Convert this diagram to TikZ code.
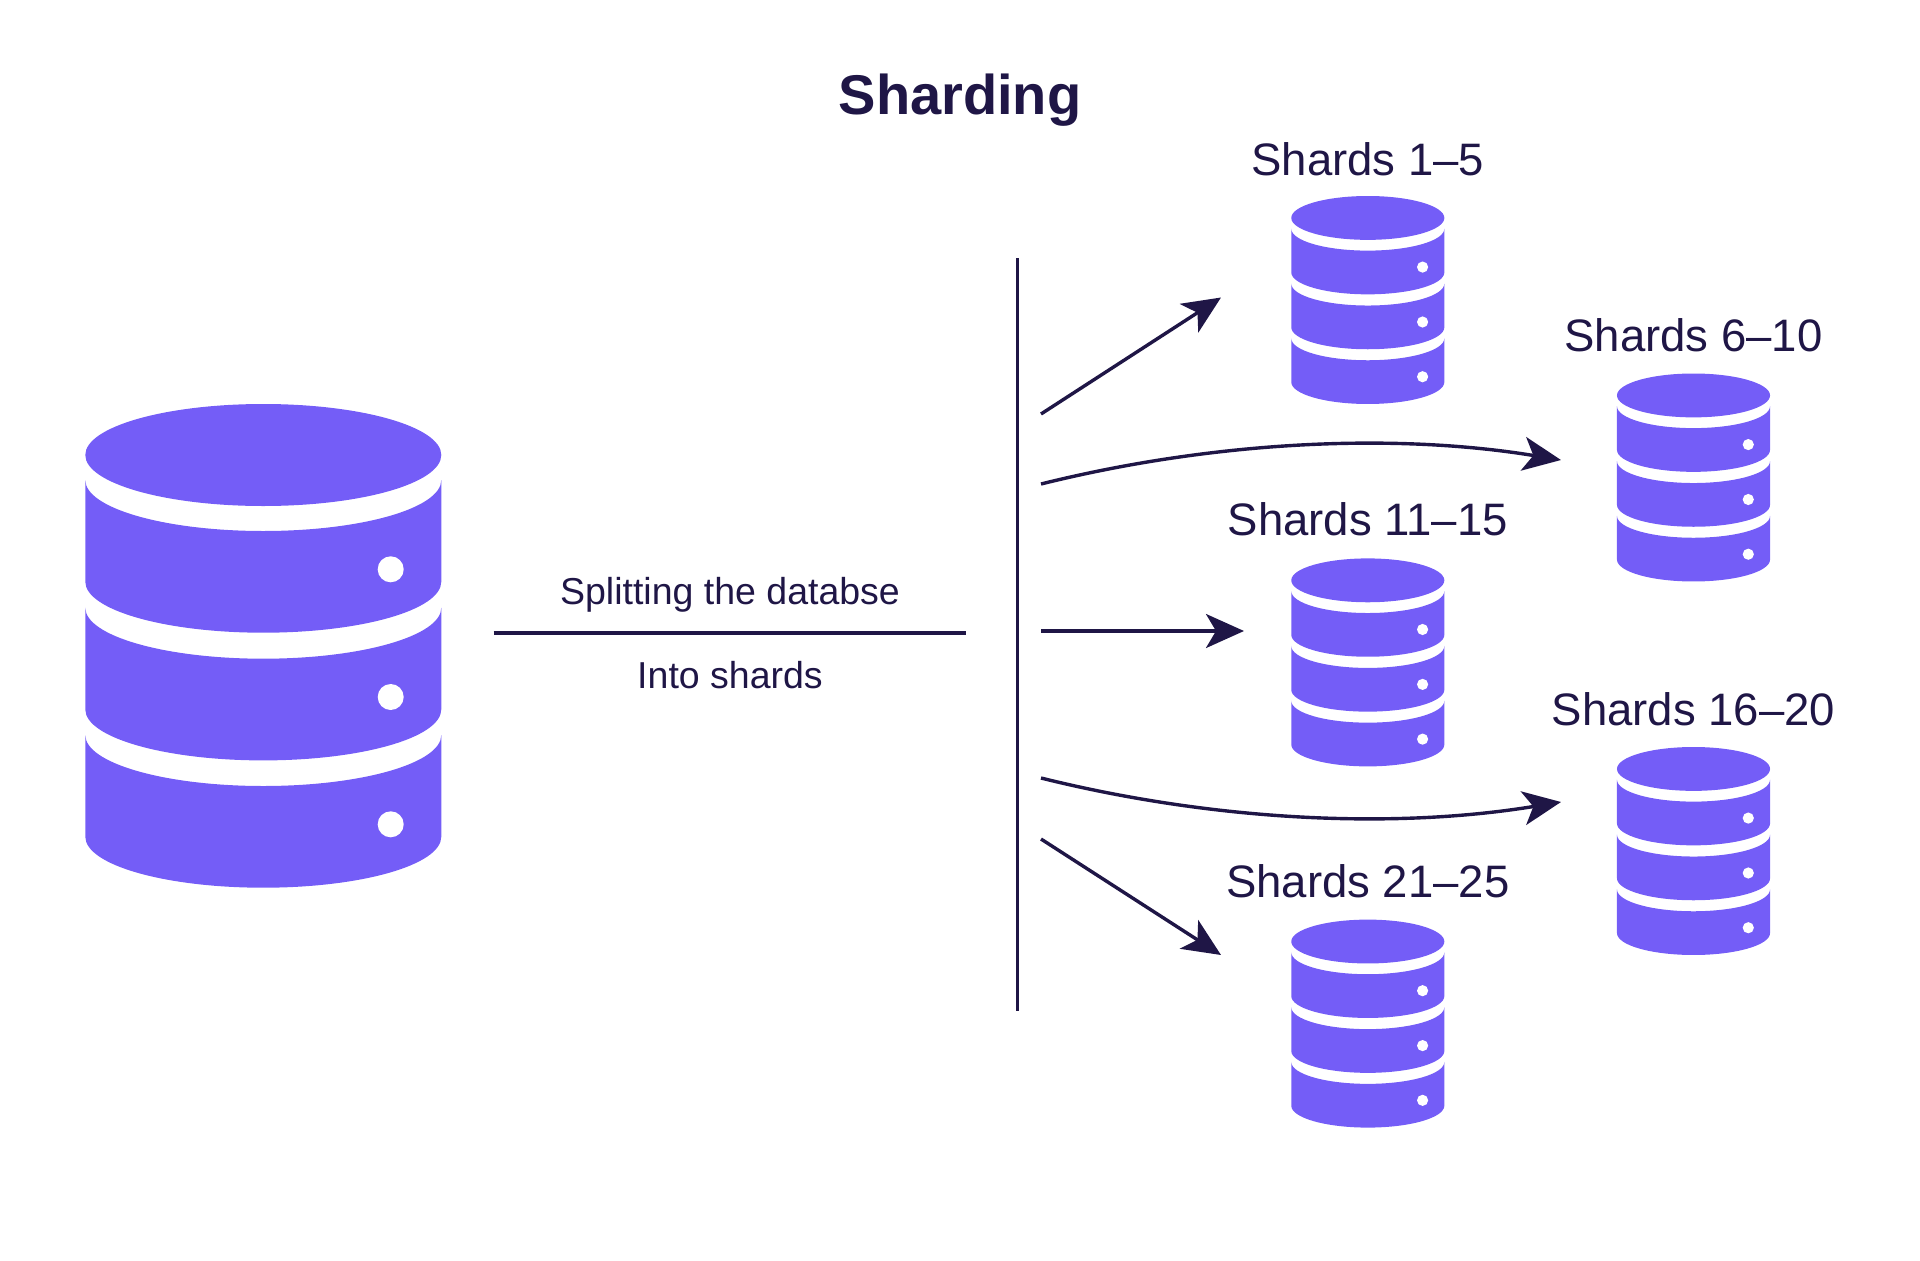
\documentclass[tikz,border=0pt]{standalone}
\usepackage{fontspec}
\setmainfont{Liberation Sans}
\usetikzlibrary{arrows.meta}
\definecolor{dbviolet}{HTML}{745DF7}
\definecolor{inknavy}{HTML}{1F1646}
\tikzset{
  dbfill/.style={fill=dbviolet,draw=none},
  holefill/.style={fill=white,draw=none},
  plainline/.style={draw=inknavy,line width=3.4pt},
  flowarrow/.style={draw=inknavy,line width=3.4pt,-{Stealth[length=38pt,width=34pt,inset=10pt]}},
  titletext/.style={text=inknavy,anchor=base,inner sep=0pt,font=\bfseries\fontsize{56}{60}\selectfont},
  shardtext/.style={text=inknavy,anchor=base,inner sep=0pt,font=\fontsize{45.5}{50}\selectfont},
  notetext/.style={text=inknavy,anchor=base,inner sep=0pt,font=\fontsize{37.5}{42}\selectfont},
}
% one disk of the stack: its side walls start at local height #1
\newcommand{\dbdisk}[1]{%
  \path[dbfill] (-178,#1) -- (-178,#1+101.7)
    .. controls (-178,#1+129.9) and (-98.3,#1+152.7) .. (0,#1+152.7)
    .. controls (98.3,#1+152.7) and (178,#1+129.9) .. (178,#1+101.7)
    -- (178,#1)
    .. controls (178,#1+28.2) and (98.3,#1+51) .. (0,#1+51)
    .. controls (-98.3,#1+51) and (-178,#1+28.2) .. (-178,#1) -- cycle;
  \path[holefill] (127.4,#1+89.3) circle[radius=13pt];
}
% database icon: #1 centre x, #2 top y, #3 scale
\newcommand{\dbicon}[3]{%
  \begin{scope}[shift={(#1,#2)},scale=#3]
    \path[dbfill] (0,51) ellipse[x radius=178pt,y radius=51pt];
    \dbdisk{76}
    \dbdisk{203.7}
    \dbdisk{331}
  \end{scope}
}
\begin{document}
\begin{tikzpicture}[x=1pt,y=-1pt]
  \useasboundingbox (0,0) rectangle (1920,1261);
  \dbicon{263.3}{404}{1}
  \dbicon{1367.8}{196}{0.43}
  \dbicon{1693.5}{373.5}{0.43}
  \dbicon{1367.8}{558.4}{0.43}
  \dbicon{1693.5}{747}{0.43}
  \dbicon{1367.8}{919.6}{0.43}

  \node[titletext] (title) at (960,114) {Sharding};
  \node[shardtext] (s1) at (1367.8,175) {Shards 1–5};
  \node[shardtext] (s2) at (1693.5,351.5) {Shards 6–10};
  \node[shardtext] (s3) at (1367.8,535) {Shards 11–15};
  \node[shardtext] (s4) at (1693.5,725) {Shards 16–20};
  \node[shardtext] (s5) at (1367.8,897.6) {Shards 21–25};
  \node[notetext] (split) at (730,604) {Splitting the databse};
  \node[notetext] (into) at (730,688) {Into shards};

  \coordinate (hl) at (493.5,633);
  \coordinate (hr) at (966,633);
  \coordinate (vt) at (1017.5,258);
  \coordinate (vb) at (1017.5,1011);
  \draw[plainline] (hl) -- (hr);
  \draw[plainline] (vt) -- (vb);

  \coordinate (a1s) at (1041,414);   \coordinate (a1e) at (1221,297.5);
  \coordinate (a2s) at (1041,484);   \coordinate (a2e) at (1561,460);
  \coordinate (a3s) at (1041,631);   \coordinate (a3e) at (1244,631);
  \coordinate (a4s) at (1041,778);   \coordinate (a4e) at (1561,802);
  \coordinate (a5s) at (1041,839);   \coordinate (a5e) at (1221,955);
  \draw[flowarrow] (a1s) -- (a1e);
  \draw[flowarrow] (a2s) .. controls (1210,442) and (1390,432) .. (a2e);
  \draw[flowarrow] (a3s) -- (a3e);
  \draw[flowarrow] (a4s) .. controls (1210,820) and (1390,830) .. (a4e);
  \draw[flowarrow] (a5s) -- (a5e);
\end{tikzpicture}
\end{document}
